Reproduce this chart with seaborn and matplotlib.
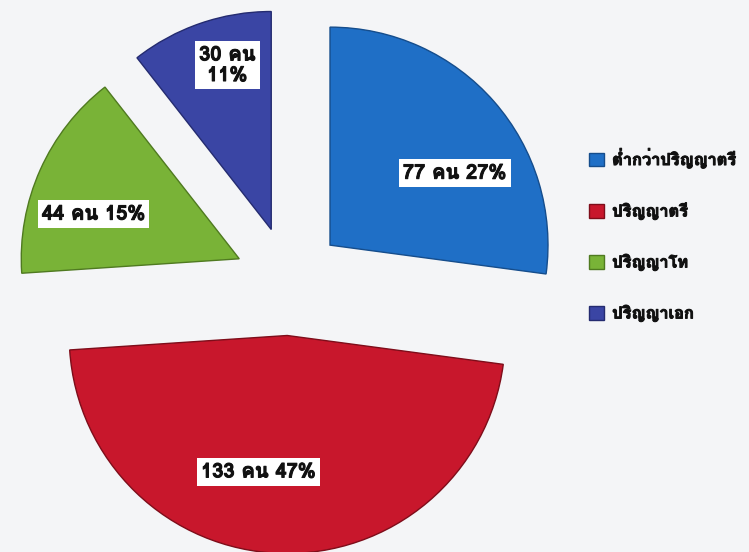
import matplotlib
matplotlib.use('Agg')
import matplotlib.pyplot as plt
import matplotlib.patheffects as pe
from matplotlib import font_manager
from fontTools.ttLib import TTFont
import numpy as np
import seaborn as sns

# education level of respondents
levels = ['ต่ำกว่าปริญญาตรี', 'ปริญญาตรี', 'ปริญญาโท', 'ปริญญาเอก']
people = [77, 133, 44, 30]
pct = [27, 47, 15, 11]
colors = ['#1f6fc6', '#c8172c', '#79b337', '#3a45a4']
edges = ['#154d8c', '#7e0d1a', '#4f7a20', '#242b70']

# where each label sits inside its (exploded) wedge: radius, angle
lab_r = [0.66, 0.64, 0.70, 0.78]
lab_ang = [30, -102, 163, 105]
sep = [' ', ' ', ' ', '\n']


def has_thai(path):
    try:
        f = TTFont(path, fontNumber=0, lazy=True)
        return 0x0E04 in f.getBestCmap()
    except Exception:
        return False


thai, thai_bold = [], []
for f in font_manager.fontManager.ttflist:
    if has_thai(f.fname):
        if f.name not in thai:
            thai.append(f.name)
        w = f.weight if isinstance(f.weight, int) else 400
        if (w >= 600 or f.weight == 'bold') and f.name not in thai_bold:
            thai_bold.append(f.name)
fam = (thai_bold or thai)[:1]

sns.set_theme(style='white')
plt.rcParams['font.family'] = fam + ['DejaVu Sans']
# thai face has no bold weight, fake it with a thin stroke
heavy = [pe.withStroke(linewidth=0.7, foreground='#111111')]

fig = plt.figure(figsize=(7.49, 5.52), dpi=100, facecolor='#f4f5f7')
ax = fig.add_axes([0.0075, -0.0225, 0.7567, 1.0268])
ax.set_facecolor('#f4f5f7')

wedges, _ = ax.pie(people, colors=colors, startangle=90, counterclock=False,
                   explode=[0.25] * len(people), wedgeprops=dict(linewidth=1.0))
for w, e in zip(wedges, edges):
    w.set_edgecolor(e)

for w, n, p, s, r, a in zip(wedges, people, pct, sep, lab_r, lab_ang):
    cx, cy = w.center
    x = cx + r * np.cos(np.radians(a))
    y = cy + r * np.sin(np.radians(a))
    ax.text(x, y, f'{n} คน{s}{p}%', ha='center', va='center', fontsize=14.5,
            fontweight='bold', color='#111111', linespacing=1.1, path_effects=heavy,
            bbox=dict(facecolor='white', edgecolor='none', pad=3))

ax.set_xlim(-1.3, 1.3)
ax.set_ylim(-1.3, 1.3)
ax.set_aspect('equal')
ax.axis('off')

leg = fig.legend(wedges, levels, loc='center left', bbox_to_anchor=(0.767, 0.574), frameon=False,
                 prop=dict(size=11.8, weight='bold'), labelspacing=2.1, handlelength=0.9,
                 handleheight=0.9, handletextpad=0.5)
for t in leg.get_texts():
    t.set_color('#111111')
    t.set_path_effects(heavy)

fig.savefig('out.png', dpi=100, facecolor=fig.get_facecolor())
